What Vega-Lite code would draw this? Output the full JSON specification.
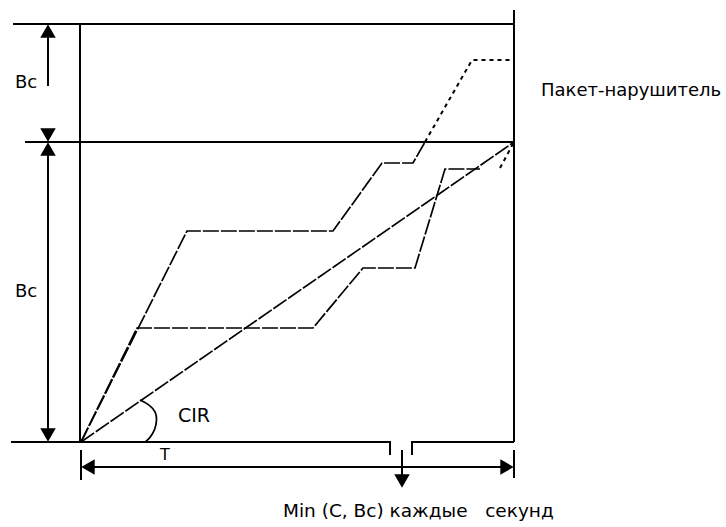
{
  "$schema": "https://vega.github.io/schema/vega-lite/v6.json",
  "width": 726,
  "height": 527,
  "autosize": {"type": "fit", "contains": "padding"},
  "padding": 0,
  "background": "white",
  "config": {"view": {"stroke": null}},
  "datasets": {
    "segs": [
      {"seg": "top", "ord": 1, "x": 13, "y": 24, "kind": "frame"},
      {"seg": "top", "ord": 2, "x": 514, "y": 24, "kind": "frame"},
      {"seg": "mid", "ord": 1, "x": 25, "y": 142, "kind": "frame"},
      {"seg": "mid", "ord": 2, "x": 514, "y": 142, "kind": "frame"},
      {"seg": "base1", "ord": 1, "x": 11, "y": 442, "kind": "frame"},
      {"seg": "base1", "ord": 2, "x": 390, "y": 442, "kind": "frame"},
      {"seg": "base1", "ord": 3, "x": 390, "y": 455, "kind": "frame"},
      {"seg": "base2", "ord": 1, "x": 412, "y": 455, "kind": "frame"},
      {"seg": "base2", "ord": 2, "x": 412, "y": 442, "kind": "frame"},
      {"seg": "base2", "ord": 3, "x": 514, "y": 442, "kind": "frame"},
      {"seg": "leftv", "ord": 1, "x": 80, "y": 24, "kind": "frame"},
      {"seg": "leftv", "ord": 2, "x": 80, "y": 442, "kind": "frame"},
      {"seg": "lefttick", "ord": 1, "x": 81, "y": 450, "kind": "frame"},
      {"seg": "lefttick", "ord": 2, "x": 81, "y": 480, "kind": "frame"},
      {"seg": "rightv", "ord": 1, "x": 514, "y": 10, "kind": "frame"},
      {"seg": "rightv", "ord": 2, "x": 514, "y": 442, "kind": "frame"},
      {"seg": "righttick", "ord": 1, "x": 514, "y": 450, "kind": "frame"},
      {"seg": "righttick", "ord": 2, "x": 514, "y": 478, "kind": "frame"},
      {"seg": "dimup", "ord": 1, "x": 48, "y": 32, "kind": "frame"},
      {"seg": "dimup", "ord": 2, "x": 48, "y": 86, "kind": "frame"},
      {"seg": "dimlow", "ord": 1, "x": 48, "y": 150, "kind": "frame"},
      {"seg": "dimlow", "ord": 2, "x": 48, "y": 434, "kind": "frame"},
      {"seg": "dimbot", "ord": 1, "x": 86, "y": 467, "kind": "frame"},
      {"seg": "dimbot", "ord": 2, "x": 508, "y": 467, "kind": "frame"},
      {"seg": "down", "ord": 1, "x": 402, "y": 450, "kind": "frame"},
      {"seg": "down", "ord": 2, "x": 402, "y": 480, "kind": "frame"},
      {"seg": "cir", "ord": 1, "x": 81, "y": 442, "kind": "path"},
      {"seg": "cir", "ord": 2, "x": 514, "y": 142, "kind": "path"},
      {"seg": "upper", "ord": 1, "x": 81, "y": 442, "kind": "path"},
      {"seg": "upper", "ord": 2, "x": 187, "y": 231, "kind": "path"},
      {"seg": "upper", "ord": 3, "x": 333, "y": 231, "kind": "path"},
      {"seg": "upper", "ord": 4, "x": 382, "y": 163, "kind": "path"},
      {"seg": "upper", "ord": 5, "x": 413, "y": 163, "kind": "path"},
      {"seg": "upper", "ord": 6, "x": 425, "y": 142, "kind": "path"},
      {"seg": "excess", "ord": 1, "x": 425, "y": 142, "kind": "dotted"},
      {"seg": "excess", "ord": 2, "x": 472, "y": 60, "kind": "dotted"},
      {"seg": "excess", "ord": 3, "x": 514, "y": 60, "kind": "dotted"},
      {"seg": "lower", "ord": 1, "x": 81, "y": 442, "kind": "path"},
      {"seg": "lower", "ord": 2, "x": 137, "y": 328, "kind": "path"},
      {"seg": "lower", "ord": 3, "x": 313, "y": 328, "kind": "path"},
      {"seg": "lower", "ord": 4, "x": 363, "y": 268, "kind": "path"},
      {"seg": "lower", "ord": 5, "x": 415, "y": 268, "kind": "path"},
      {"seg": "lower", "ord": 6, "x": 445, "y": 169, "kind": "path"},
      {"seg": "lower", "ord": 7, "x": 480, "y": 169, "kind": "path"},
      {"seg": "short", "ord": 1, "x": 500, "y": 168, "kind": "dotted"},
      {"seg": "short", "ord": 2, "x": 514, "y": 142, "kind": "dotted"}
    ],
    "arc": [
      {"ord": 1, "x": 140, "y": 400},
      {"ord": 2, "x": 150, "y": 405},
      {"ord": 3, "x": 156, "y": 412},
      {"ord": 4, "x": 157, "y": 420},
      {"ord": 5, "x": 155, "y": 430},
      {"ord": 6, "x": 150, "y": 438},
      {"ord": 7, "x": 145, "y": 442}
    ],
    "arrows": [
      {"x": 48, "y": 31, "dir": "up"},
      {"x": 48, "y": 135, "dir": "down"},
      {"x": 48, "y": 149, "dir": "up"},
      {"x": 48, "y": 435, "dir": "down"},
      {"x": 88, "y": 467, "dir": "left"},
      {"x": 507, "y": 467, "dir": "right"},
      {"x": 402, "y": 481, "dir": "down"}
    ],
    "labels": [
      {"x": 15, "y": 83, "text": "Bc", "size": 18},
      {"x": 15, "y": 292, "text": "Bc", "size": 18},
      {"x": 541, "y": 91, "text": "Пакет-нарушитель", "size": 18},
      {"x": 178, "y": 416, "text": "CIR", "size": 19},
      {"x": 160, "y": 455, "text": "T", "size": 16},
      {"x": 283, "y": 511, "text": "Min (C, Bc) каждые \u00a0 секунд", "size": 18.5}
    ]
  },
  "layer": [
    {
      "data": {"name": "segs"},
      "transform": [{"filter": "datum.kind === 'frame'"}],
      "mark": {"type": "line", "color": "black", "strokeWidth": 2},
      "encoding": {
        "x": {"field": "x", "type": "quantitative", "scale": {"domain": [0, 726], "nice": false, "zero": false}, "axis": null},
        "y": {"field": "y", "type": "quantitative", "scale": {"domain": [0, 527], "reverse": true, "nice": false, "zero": false}, "axis": null},
        "detail": {"field": "seg", "type": "nominal"},
        "order": {"field": "ord", "type": "quantitative"}
      }
    },
    {
      "data": {"name": "segs"},
      "transform": [{"filter": "datum.kind === 'path'"}],
      "mark": {"type": "line", "color": "black", "strokeWidth": 1.7, "strokeDash": [16, 2]},
      "encoding": {
        "x": {"field": "x", "type": "quantitative"},
        "y": {"field": "y", "type": "quantitative"},
        "detail": {"field": "seg", "type": "nominal"},
        "order": {"field": "ord", "type": "quantitative"}
      }
    },
    {
      "data": {"name": "segs"},
      "transform": [{"filter": "datum.kind === 'dotted'"}],
      "mark": {"type": "line", "color": "black", "strokeWidth": 2, "strokeDash": [4, 4]},
      "encoding": {
        "x": {"field": "x", "type": "quantitative"},
        "y": {"field": "y", "type": "quantitative"},
        "detail": {"field": "seg", "type": "nominal"},
        "order": {"field": "ord", "type": "quantitative"}
      }
    },
    {
      "data": {"name": "arc"},
      "mark": {"type": "line", "color": "black", "strokeWidth": 1.7, "interpolate": "basis"},
      "encoding": {
        "x": {"field": "x", "type": "quantitative"},
        "y": {"field": "y", "type": "quantitative"},
        "order": {"field": "ord", "type": "quantitative"}
      }
    },
    {
      "data": {"name": "arrows"},
      "mark": {"type": "point", "filled": true, "color": "black", "opacity": 1, "size": 240},
      "encoding": {
        "x": {"field": "x", "type": "quantitative"},
        "y": {"field": "y", "type": "quantitative"},
        "shape": {"field": "dir", "type": "nominal", "scale": {"domain": ["up", "down", "left", "right"], "range": ["triangle-up", "triangle-down", "triangle-left", "triangle-right"]}, "legend": null}
      }
    },
    {
      "data": {"name": "labels"},
      "mark": {"type": "text", "align": "left", "baseline": "middle", "font": "DejaVu Sans", "color": "black"},
      "encoding": {
        "x": {"field": "x", "type": "quantitative"},
        "y": {"field": "y", "type": "quantitative"},
        "text": {"field": "text"},
        "size": {"field": "size", "type": "quantitative", "scale": null}
      }
    }
  ]
}
